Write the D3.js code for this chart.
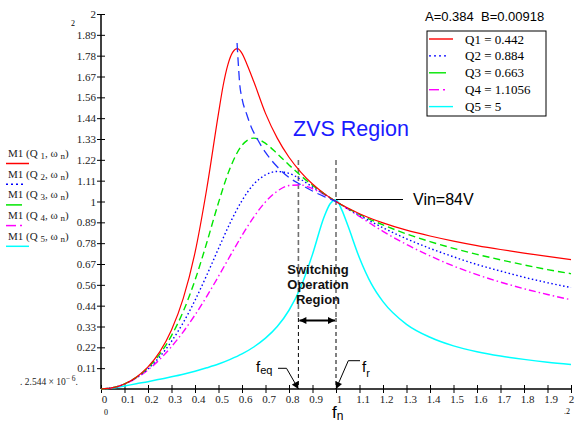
<!DOCTYPE html>
<html><head><meta charset="utf-8">
<script src="https://cdn.jsdelivr.net/npm/d3@7"></script>
<style>body{margin:0;background:#fff}svg{display:block}</style>
</head><body><svg id="c" width="575" height="424"></svg>
<script>
// ---------- data ----------
const freqQ1=[0,0.05,0.1,0.15,0.2,0.25,0.3,0.35,0.4,0.45,0.5,0.52,0.54,0.56,0.58,0.6,0.62,0.65,0.7,0.75,0.8,0.85,0.9,0.95,1,1.05,1.1,1.2,1.3,1.4,1.5,1.6,1.7,1.8,1.9,2];
const gainQ1=[0,0.007,0.027,0.063,0.118,0.198,0.315,0.483,0.727,1.068,1.47,1.62,1.73,1.795,1.815,1.79,1.735,1.64,1.47,1.338,1.236,1.157,1.093,1.042,1,0.965,0.935,0.886,0.847,0.816,0.789,0.765,0.744,0.725,0.707,0.690];
const freq=[0,0.05,0.1,0.15,0.2,0.25,0.3,0.35,0.4,0.45,0.5,0.55,0.6,0.65,0.7,0.75,0.8,0.85,0.9,0.95,1,1.05,1.1,1.2,1.3,1.4,1.5,1.6,1.7,1.8,1.9,2];
const gainQ2=[0,0.007,0.026,0.060,0.108,0.172,0.254,0.354,0.473,0.607,0.749,0.887,1.005,1.092,1.142,1.16,1.15,1.118,1.078,1.039,1,0.962,0.926,0.860,0.801,0.750,0.705,0.664,0.629,0.596,0.567,0.541];
const gainQ3=[0,0.007,0.027,0.062,0.114,0.186,0.285,0.414,0.580,0.780,0.994,1.18,1.30,1.338,1.31,1.255,1.195,1.138,1.087,1.041,1,0.964,0.931,0.875,0.827,0.786,0.750,0.718,0.689,0.662,0.637,0.615];
const gainQ4=[0,0.007,0.026,0.058,0.102,0.158,0.226,0.305,0.395,0.494,0.601,0.711,0.819,0.917,0.998,1.055,1.085,1.088,1.068,1.037,1,0.960,0.920,0.841,0.771,0.710,0.656,0.610,0.570,0.535,0.504,0.476];
const freqQ5=[0,0.05,0.1,0.15,0.2,0.25,0.3,0.35,0.4,0.45,0.5,0.55,0.6,0.65,0.7,0.75,0.8,0.85,0.9,0.95,0.975,1,1.025,1.05,1.1,1.15,1.2,1.3,1.4,1.5,1.6,1.7,1.8,1.9,2];
const gainQ5=[0,0.005,0.016,0.028,0.039,0.052,0.065,0.079,0.095,0.113,0.133,0.158,0.187,0.224,0.271,0.333,0.420,0.543,0.718,0.920,0.988,1.01,0.954,0.873,0.699,0.562,0.466,0.345,0.276,0.230,0.199,0.176,0.158,0.143,0.131];
const freqLocus=[0.579,0.584,0.59,0.6,0.62,0.64,0.66,0.7,0.75,0.8,0.85,0.9,0.95,1];
const gainLocus=[1.845,1.74,1.63,1.55,1.465,1.395,1.345,1.262,1.185,1.128,1.09,1.056,1.026,1];
const seriesNames=["Q1 = 0.442","Q2 = 0.884","Q3 = 0.663","Q4 = 1.1056","Q5 = 5"];
const seriesSub=["1","2","3","4","5"];
const seriesColors=["#ff0000","#0000ff","#00e600","#ff00ff","#00ffff"];
const seriesDash=[null,"1.5,2.5","7,4","7,3,1.5,3",null];
const xTickLabels=["0","0.1","0.2","0.3","0.4","0.5","0.6","0.7","0.8","0.9","1","1.1","1.2","1.3","1.4","1.5","1.6","1.7","1.8","1.9","2"];
const yTickLabels=["0.11","0.22","0.33","0.44","0.56","0.67","0.78","0.89","1","1.11","1.22","1.33","1.44","1.56","1.67","1.78","1.89","2"];
const fEq=0.84, fR=1.0;

// ---------- drawing ----------
const svg=d3.select("#c");
const SERIF='"Liberation Serif","Times New Roman",serif';
const SANS='"Liberation Sans",Arial,sans-serif';
const x=d3.scaleLinear().domain([0,2]).range([101,571]);
const y=d3.scaleLinear().domain([0,2]).range([389,14]);

const defs=svg.append("defs");
defs.append("marker").attr("id","ah").attr("viewBox","0 0 10 10").attr("refX",10).attr("refY",5)
  .attr("markerWidth",8).attr("markerHeight",7).attr("markerUnits","userSpaceOnUse").attr("orient","auto-start-reverse")
  .append("path").attr("d","M0,0L10,5L0,10z").attr("fill","#000");

// axes
const yTickValues=yTickLabels.map((d,i)=>(i+1)/9);
const gy=svg.append("g").attr("transform",`translate(${x(0)},0)`)
  .call(d3.axisLeft(y).tickValues(yTickValues).tickFormat((d,i)=>yTickLabels[i]).tickSize(4).tickPadding(1));
gy.select(".domain").remove();
gy.selectAll(".tick line").attr("x1",4).attr("stroke","#000");
gy.selectAll("text").attr("font-family",SERIF).attr("font-size",11).attr("fill","#222");

const xTickValues=xTickLabels.map(Number);
const gx=svg.append("g").attr("transform",`translate(0,${y(0)})`)
  .call(d3.axisBottom(x).tickValues(xTickValues).tickFormat((d,i)=>xTickLabels[i]).tickSize(4).tickPadding(2));
gx.select(".domain").remove();
gx.selectAll(".tick line").attr("y1",-4).attr("stroke","#000");
gx.selectAll("text").attr("font-family",SERIF).attr("font-size",11).attr("fill","#222")
  .attr("dx",(d,i)=>i===xTickLabels.length-1?0:3);

svg.append("line").attr("x1",x(0)).attr("x2",x(0)).attr("y1",y(2)).attr("y2",y(0)).attr("stroke","#000").attr("stroke-width",1.5);
svg.append("line").attr("x1",x(0)).attr("x2",x(2)).attr("y1",y(0)).attr("y2",y(0)).attr("stroke","#000").attr("stroke-width",1.5);

// vertical dashed markers
[fEq,fR].forEach(f=>{
  svg.append("line").attr("x1",x(f)).attr("x2",x(f)).attr("y1",160).attr("y2",318)
    .attr("stroke","#707070").attr("stroke-width",1.6).attr("stroke-dasharray","5,3");
  svg.append("line").attr("x1",x(f)).attr("x2",x(f)).attr("y1",318).attr("y2",y(0))
    .attr("stroke","#000").attr("stroke-width",1).attr("stroke-dasharray","4,3");
});

// curves
const line=d3.line().x(d=>x(d[0])).y(d=>y(d[1])).curve(d3.curveMonotoneX);
const series=[[freqQ1,gainQ1],[freq,gainQ2],[freq,gainQ3],[freq,gainQ4],[freqQ5,gainQ5]];
const order=[4,3,1,2,0];
order.forEach(k=>{
  const [fx,gv]=series[k];
  svg.append("path").datum(fx.map((f,i)=>[f,gv[i]])).attr("d",line).attr("fill","none")
    .attr("stroke",seriesColors[k]).attr("stroke-width",k===4?1.5:(k===0?1.2:1.4))
    .attr("stroke-dasharray",seriesDash[k]);
});
svg.append("path").datum(freqLocus.map((f,i)=>[f,gainLocus[i]])).attr("d",line).attr("fill","none")
  .attr("stroke","#2233ff").attr("stroke-width",1.3).attr("stroke-dasharray","9,5");

// legend box
svg.append("text").attr("x",425).attr("y",21).attr("font-family",SANS).attr("font-size",13)
  .attr("xml:space","preserve").text("A=0.384  B=0.00918");
svg.append("rect").attr("x",427).attr("y",31).attr("width",119).attr("height",85)
  .attr("fill","#fff").attr("stroke","#000").attr("stroke-width",1);
const legLen=[24,20,17,15,24];
seriesNames.forEach((n,i)=>{
  const yy=39+i*16.9;
  if(i===3){
    svg.append("line").attr("x1",429).attr("x2",439).attr("y1",yy).attr("y2",yy).attr("stroke",seriesColors[i]).attr("stroke-width",1.4);
    svg.append("line").attr("x1",443).attr("x2",445).attr("y1",yy).attr("y2",yy).attr("stroke",seriesColors[i]).attr("stroke-width",1.4);
  } else {
    svg.append("line").attr("x1",429).attr("x2",429+legLen[i]).attr("y1",yy).attr("y2",yy)
      .attr("stroke",seriesColors[i]).attr("stroke-width",1.4).attr("stroke-dasharray",i===1?"2,3":null);
  }
  svg.append("text").attr("x",465).attr("y",yy+4.5).attr("font-family",SERIF).attr("font-size",13).text(n);
});

// left-side labels
const leftLen=[23,19,16,10,23];
seriesSub.forEach((s,i)=>{
  const by=157+i*20.7;
  const t=svg.append("text").attr("x",8).attr("y",by).attr("font-family",SERIF).attr("font-size",11).attr("fill","#222");
  t.append("tspan").text("M1 (Q ");
  t.append("tspan").attr("font-size",9).attr("dy",2).text(s);
  t.append("tspan").attr("dy",-2).text(", ω ");
  t.append("tspan").attr("font-size",9).attr("dy",2).text("n");
  t.append("tspan").attr("dy",-2).text(")");
  const ly=by+6.5;
  if(i===3){
    svg.append("line").attr("x1",6).attr("x2",16).attr("y1",ly).attr("y2",ly).attr("stroke",seriesColors[i]).attr("stroke-width",1.5);
    svg.append("line").attr("x1",20).attr("x2",22).attr("y1",ly).attr("y2",ly).attr("stroke",seriesColors[i]).attr("stroke-width",1.5);
  } else {
    svg.append("line").attr("x1",6).attr("x2",6+leftLen[i]).attr("y1",ly).attr("y2",ly)
      .attr("stroke",seriesColors[i]).attr("stroke-width",1.5).attr("stroke-dasharray",i===1?"2,3":null);
  }
});

// small axis limit labels
svg.append("text").attr("x",71).attr("y",26).attr("font-family",SERIF).attr("font-size",8).text("2");
svg.append("text").attr("x",104).attr("y",415).attr("font-family",SERIF).attr("font-size",8).text("0");
svg.append("text").attr("x",564).attr("y",414).attr("font-family",SERIF).attr("font-size",8).text(".2");
const lo=svg.append("text").attr("x",20).attr("y",385).attr("font-family",SERIF).attr("font-size",9.5).attr("fill","#222");
lo.append("tspan").text(". 2.544 × 10");
lo.append("tspan").attr("font-size",7.5).attr("dy",-4).text("− 6");
lo.append("tspan").attr("dy",4).text(".");

// annotations
svg.append("text").attr("x",293).attr("y",136).attr("font-family",SANS).attr("font-size",21.5).attr("fill","#1a1aff").text("ZVS Region");
svg.append("line").attr("x1",x(1)).attr("x2",403).attr("y1",199.5).attr("y2",199.5).attr("stroke","#000").attr("stroke-width",1);
svg.append("text").attr("x",413).attr("y",205).attr("font-family",SANS).attr("font-size",16).text("Vin=84V");
["Switching","Operation","Region"].forEach((s,i)=>{
  svg.append("text").attr("x",318).attr("y",274+i*15).attr("text-anchor","middle").attr("font-family",SANS)
    .attr("font-weight","bold").attr("font-size",13).attr("fill","#111").text(s);
});
svg.append("line").attr("x1",x(fEq)+1).attr("x2",x(fR)-1).attr("y1",320.5).attr("y2",320.5)
  .attr("stroke","#000").attr("stroke-width",2).attr("marker-start","url(#ah)").attr("marker-end","url(#ah)");

// f_eq
const feq=svg.append("text").attr("x",256).attr("y",372).attr("font-family",SANS).attr("font-size",15);
feq.append("tspan").text("f");
feq.append("tspan").attr("font-size",11).attr("dy",2).text("eq");
svg.append("path").attr("d",`M278,368.3L286.5,368.3L${x(fEq)},${y(0)}`).attr("fill","none").attr("stroke","#000").attr("stroke-width",1)
  .attr("marker-end","url(#ah)");
// f_r
const fr=svg.append("text").attr("x",362).attr("y",371.5).attr("font-family",SANS).attr("font-size",15);
fr.append("tspan").text("f");
fr.append("tspan").attr("font-size",11).attr("dy",5).text("r");
svg.append("path").attr("d",`M360,360.7L348.3,360.7L${x(fR)},${y(0)}`).attr("fill","none").attr("stroke","#000").attr("stroke-width",1)
  .attr("marker-end","url(#ah)");
// f_n
const fn=svg.append("text").attr("x",332).attr("y",418).attr("font-family",SANS).attr("font-size",17);
fn.append("tspan").text("f");
fn.append("tspan").attr("font-size",12).attr("dy",2).text("n");
</script></body></html>
